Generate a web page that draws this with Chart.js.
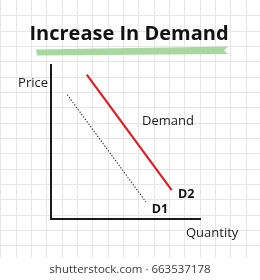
<!DOCTYPE html>
<html>
<head>
<meta charset="utf-8">
<script src="https://cdn.jsdelivr.net/npm/chart.js@4/dist/chart.umd.min.js"></script>
<style>
  html, body { margin: 0; padding: 0; background: #ffffff; }
  #wrap { position: relative; width: 260px; height: 280px; }
  canvas { display: block; }
</style>
</head>
<body>
<div id="wrap"><canvas id="c" width="260" height="280"></canvas></div>
<script>
// ---- data (conceptual units: 0..10 on each axis) ----
const titleText = "Increase In Demand";
const xAxisLabel = "Quantity";
const yAxisLabel = "Price";
const curveLabel = "Demand";
const watermark = "shutterstock.com · 663537178";

const d2Quantity = [2.40, 8.10];
const d2Price    = [9.37, 1.88];
const d1Quantity = [1.09, 6.36];
const d1Price    = [8.07, 1.12];

const curveNames = ["D2", "D1"];
const curveLabelQuantity = [8.52, 6.76];
const curveLabelPrice    = [1.62, 0.65];
const demandLabelQuantity = 7.85;
const demandLabelPrice = 6.36;

const axisMin = 0, axisMax = 10;

const toPoints = (xs, ys) => xs.map((x, i) => ({ x: x, y: ys[i] }));

const decor = {
  id: 'decor',
  beforeDraw(chart) {
    const ctx = chart.ctx;
    const W = chart.width;
    ctx.save();
    ctx.fillStyle = '#ffffff';
    ctx.fillRect(0, 0, W, chart.height);
    // background grid paper
    const step = 15.333, gridBottom = 258;
    ctx.strokeStyle = '#e6e6e6';
    ctx.lineWidth = 1;
    ctx.beginPath();
    for (let x = 0.33; x <= W; x += step) {
      const px = Math.round(x) + 0.5;
      ctx.moveTo(px, 0); ctx.lineTo(px, gridBottom);
    }
    for (let y = step; y <= gridBottom; y += step) {
      const py = Math.round(y) + 0.5;
      ctx.moveTo(0, py); ctx.lineTo(W, py);
    }
    ctx.stroke();
    // green highlighter stroke under title
    ctx.fillStyle = '#a8d8a0';
    ctx.beginPath();
    ctx.moveTo(36, 49.5);
    ctx.lineTo(200, 47);
    ctx.lineTo(228, 46.5);
    ctx.lineTo(224, 50.5);
    ctx.lineTo(228, 54);
    ctx.lineTo(37, 55.5);
    ctx.closePath();
    ctx.fill();
    // title
    ctx.fillStyle = '#111111';
    ctx.font = 'bold 20px "Open Sans"';
    ctx.textAlign = 'center';
    ctx.textBaseline = 'middle';
    ctx.fillText(titleText, 129, 34);
    ctx.restore();
  },
  afterDraw(chart) {
    const ctx = chart.ctx;
    const a = chart.chartArea;
    const xs = chart.scales.x, ys = chart.scales.y;
    ctx.save();
    ctx.fillStyle = '#1a1a1a';
    ctx.textBaseline = 'middle';
    ctx.font = '13px "Open Sans"';
    ctx.textAlign = 'right';
    ctx.fillText(yAxisLabel, a.left - 3, a.top + 18);
    ctx.textAlign = 'left';
    ctx.fillText(xAxisLabel, a.right - 14, a.bottom + 14);
    ctx.textAlign = 'center';
    ctx.fillText(curveLabel, xs.getPixelForValue(demandLabelQuantity), ys.getPixelForValue(demandLabelPrice));
    ctx.font = 'bold 12.5px "Open Sans"';
    ctx.textAlign = 'left';
    ctx.fillStyle = '#111111';
    curveNames.forEach((n, i) => {
      ctx.fillText(n, xs.getPixelForValue(curveLabelQuantity[i]), ys.getPixelForValue(curveLabelPrice[i]));
    });
    ctx.font = '11.5px "Open Sans"';
    ctx.fillStyle = '#3a3a3a';
    ctx.textAlign = 'center';
    ctx.fillText(watermark, 130, 270);
    ctx.restore();
  }
};

new Chart(document.getElementById('c'), {
  type: 'line',
  data: {
    datasets: [
      {
        label: 'D2',
        data: toPoints(d2Quantity, d2Price),
        borderColor: '#de1f28',
        borderWidth: 2.2,
        pointRadius: 0,
        fill: false,
        tension: 0
      },
      {
        label: 'D1',
        data: toPoints(d1Quantity, d1Price),
        borderColor: '#2a2a2a',
        borderWidth: 1.1,
        borderDash: [1.3, 1.7],
        pointRadius: 0,
        fill: false,
        tension: 0
      }
    ]
  },
  plugins: [decor],
  options: {
    responsive: false,
    animation: false,
    devicePixelRatio: 1,
    layout: { padding: { left: 51, right: 60, top: 65, bottom: 61 } },
    plugins: { legend: { display: false }, tooltip: { enabled: false }, title: { display: false } },
    scales: {
      x: {
        type: 'linear', min: axisMin, max: axisMax,
        grid: { display: false, drawTicks: false },
        ticks: { display: false },
        border: { display: true, color: '#1a1a1a', width: 2 },
        afterFit(s) { s.height = 0; }
      },
      y: {
        type: 'linear', min: axisMin, max: axisMax,
        grid: { display: false, drawTicks: false },
        ticks: { display: false },
        border: { display: true, color: '#1a1a1a', width: 2 },
        afterFit(s) { s.width = 0; }
      }
    }
  }
});
</script>
</body>
</html>
